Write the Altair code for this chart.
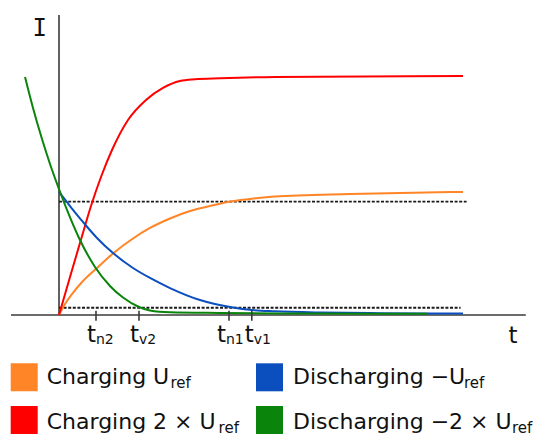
import altair as alt
import pandas as pd

# ---- data (t in arbitrary time units, I in units of the upper threshold) ----
red_t = [0, 0.275, 0.55, 0.8, 1.05, 1.325, 1.725, 2.175, 2.6, 3.025, 3.4, 4.025, 5.4, 10.1]
red_i = [0, 0.335, 0.666, 0.962, 1.218, 1.456, 1.721, 1.898, 2.004, 2.065, 2.080, 2.089, 2.101, 2.109]

orange_t = [0, 0.15, 0.325, 0.6, 0.95, 1.35, 1.85, 2.275, 2.775, 3.275, 3.775, 4.25, 4.775, 5.4, 7.275, 10.1]
orange_i = [0, 0.097, 0.185, 0.300, 0.415, 0.543, 0.675, 0.768, 0.852, 0.918, 0.962, 1.0, 1.024, 1.046, 1.068, 1.086]

blue_t = [0, 0.275, 0.6, 0.95, 1.35, 1.85, 2.275, 2.775, 3.525, 4.35, 4.825, 5.4, 6.525, 8.025, 10.1]
blue_i = [1.086, 0.962, 0.821, 0.680, 0.547, 0.415, 0.327, 0.238, 0.132, 0.066, 0.044, 0.033, 0.022, 0.016, 0.013]

green_t = [-0.85, -0.65, -0.425, -0.225, 0, 0.2, 0.5, 0.9, 1.275, 1.6, 2.0, 2.275, 2.775, 4.025, 6.025, 9.225]
green_i = [2.101, 1.827, 1.553, 1.333, 1.112, 0.927, 0.680, 0.424, 0.256, 0.154, 0.071, 0.040, 0.024, 0.018, 0.013, 0.011]

thresh_levels = [1.0, 0.064]
thresh_end = [10.19, 10.04]

tick_t = [0.925, 2.0, 4.25, 4.82]
tick_sub = ["n2", "v2", "n1", "v1"]

T_AXIS_START, T_AXIS_END, I_AXIS_TOP = -1.2, 11.67, 2.648
X_DOMAIN = [-1.275, 12.075]
Y_DOMAIN = [-1.0856, 2.7096]

legend_main = ["Charging U", "Charging 2 × U", "Discharging −U", "Discharging −2 × U"]
legend_sub = ["ref", "ref", "ref", "ref"]

COL_ORANGE, COL_RED, COL_BLUE, COL_GREEN = "#FF8526", "#FF0000", "#0B4FBF", "#0A840A"
AXIS_COL = "#3a3a3a"
FONT = "DejaVu Sans"

xs = alt.Scale(domain=X_DOMAIN, nice=False, zero=False)
ys = alt.Scale(domain=Y_DOMAIN, nice=False, zero=False)


def X(field=None, datum=None):
    if datum is not None:
        return alt.X(datum=datum, type="quantitative", scale=xs, axis=None)
    return alt.X(field, type="quantitative", scale=xs, axis=None)


def Y(field=None, datum=None):
    if datum is not None:
        return alt.Y(datum=datum, type="quantitative", scale=ys, axis=None)
    return alt.Y(field, type="quantitative", scale=ys, axis=None)


def curve(ts, iv, color):
    df = pd.DataFrame({"t": ts, "I": iv})
    return alt.Chart(df).mark_line(interpolate="monotone", strokeWidth=2, color=color).encode(
        x=X("t"), y=Y("I"))


layers = []

# axes
layers.append(alt.Chart().mark_rule(color=AXIS_COL, strokeWidth=1.6).encode(
    x=X(datum=0), y=Y(datum=0), y2=alt.Y2(datum=I_AXIS_TOP)))
layers.append(alt.Chart().mark_rule(color=AXIS_COL, strokeWidth=1.6).encode(
    x=X(datum=T_AXIS_START), x2=alt.X2(datum=T_AXIS_END), y=Y(datum=0)))

# threshold dashed lines
thr = pd.DataFrame({"lvl": thresh_levels, "start": [0, 0], "end": thresh_end})
layers.append(alt.Chart(thr).mark_rule(color="#1a1a1a", strokeWidth=1.8, strokeDash=[3, 1.6]).encode(
    x=X("start"), x2="end:Q", y=Y("lvl")))

# curves
layers.append(curve(orange_t, orange_i, COL_ORANGE))
layers.append(curve(red_t, red_i, COL_RED))
layers.append(curve(blue_t, blue_i, COL_BLUE))
layers.append(curve(green_t, green_i, COL_GREEN))

# ticks and tick labels
ticks = pd.DataFrame({"t": tick_t, "sub": tick_sub, "zero": [0] * len(tick_t), "main": ["t"] * len(tick_t)})
layers.append(alt.Chart(ticks).mark_rule(color=AXIS_COL, strokeWidth=1.6, yOffset=-4.3, y2Offset=5.7).encode(
    x=X("t"), y=Y("zero"), y2="zero:Q"))
label_nudge = [0, 0, -3, 2]   # small horizontal nudges (px) so close labels do not collide
for k in range(len(tick_t)):
    one = ticks.iloc[[k]]
    layers.append(alt.Chart(one).mark_text(font=FONT, fontSize=23, align="right", baseline="alphabetic",
                                           dx=label_nudge[k], dy=27.3, color="#111111").encode(
        x=X("t"), y=Y("zero"), text="main:N"))
    layers.append(alt.Chart(one).mark_text(font=FONT, fontSize=14, align="left", baseline="alphabetic",
                                           dx=label_nudge[k], dy=29.3, color="#111111").encode(
        x=X("t"), y=Y("zero"), text="sub:N"))

# axis names
layers.append(alt.Chart().mark_text(font="DejaVu Sans Mono", fontSize=24, align="center",
                                    baseline="alphabetic", color="#111111").encode(
    x=alt.value(31.7), y=alt.value(28), text=alt.value("I")))
layers.append(alt.Chart().mark_text(font=FONT, fontSize=23, align="center",
                                    baseline="alphabetic", color="#111111").encode(
    x=alt.value(505), y=alt.value(334.5), text=alt.value("t")))

# legend
leg_cols = [COL_ORANGE, COL_RED, COL_BLUE, COL_GREEN]
sq_x = [2.7, 2.7, 248, 248]
sq_y = [355.3, 398, 355.3, 398]
txt_x = [38.7, 38.7, 285, 285]
txt_y = [376, 421, 376, 421]
sub_x = [162.5, 210.6, 456, 504]
for i in range(4):
    layers.append(alt.Chart().mark_rect(color=leg_cols[i]).encode(
        x=alt.value(sq_x[i]), x2=alt.value(sq_x[i] + 27), y=alt.value(sq_y[i]), y2=alt.value(sq_y[i] + 28)))
    layers.append(alt.Chart().mark_text(font=FONT, fontSize=22, align="left", baseline="alphabetic",
                                        color="#111111").encode(
        x=alt.value(txt_x[i]), y=alt.value(txt_y[i]), text=alt.value(legend_main[i])))
    layers.append(alt.Chart().mark_text(font=FONT, fontSize=15, align="left", baseline="alphabetic",
                                        color="#111111").encode(
        x=alt.value(sub_x[i]), y=alt.value(txt_y[i] + 4), text=alt.value(legend_sub[i])))

chart = alt.layer(*layers).properties(
    width=534, height=430, padding=0, autosize=alt.AutoSizeParams(type="none"),
    background="white"
).configure_view(stroke=None)

chart.save("out.html", embed_options={"renderer": "svg", "actions": False})
